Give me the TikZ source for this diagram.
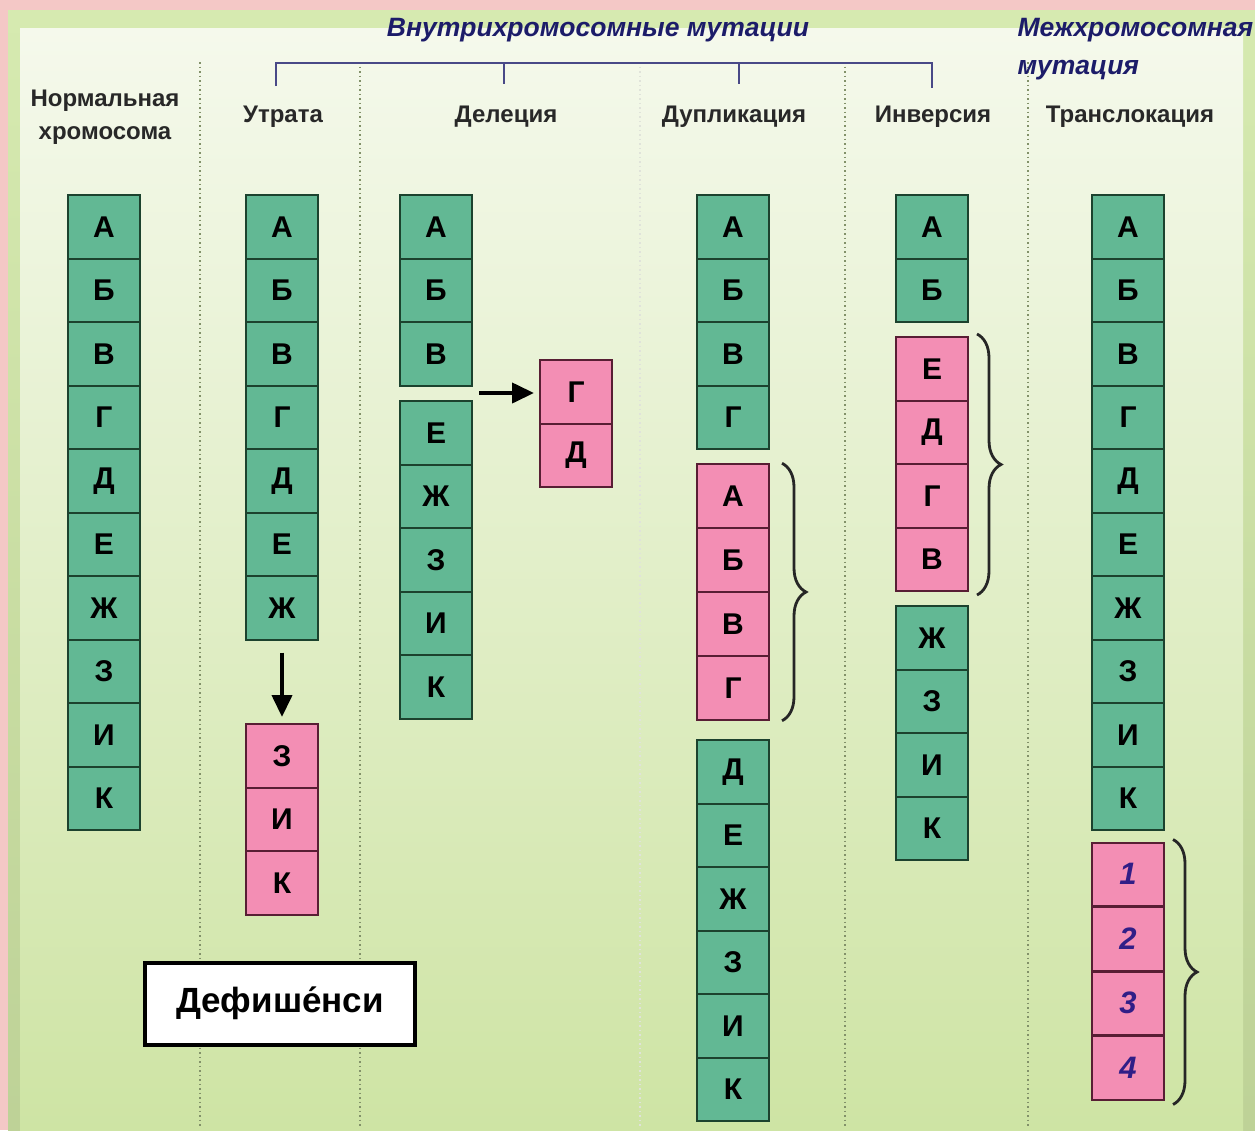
\documentclass[tikz,border=0pt]{standalone}
\usepackage{fontspec}
\setmainfont{Liberation Sans}
\usetikzlibrary{arrows.meta,decorations.pathreplacing}
\definecolor{frame}{RGB}{244,200,198}
\definecolor{bandgreen}{RGB}{214,234,176}
\definecolor{bgtop}{RGB}{245,249,236}
\definecolor{bgbot}{RGB}{206,228,164}
\definecolor{gfill}{RGB}{98,184,148}
\definecolor{gborder}{RGB}{28,66,46}
\definecolor{pfill}{RGB}{243,142,180}
\definecolor{pborder}{RGB}{88,30,52}
\definecolor{titleblue}{RGB}{28,28,105}
\definecolor{numblue}{RGB}{48,30,135}
\definecolor{labelgray}{RGB}{40,40,40}
\definecolor{dotcol}{RGB}{130,145,105}
\begin{document}
\begin{tikzpicture}[x=1pt,y=-1pt,
  cell/.style={line width=2pt, minimum width=72pt, minimum height=63.5pt, inner sep=0pt,
    font=\fontsize{30}{32}\selectfont\bfseries},
  gcell/.style={cell, draw=gborder, fill=gfill},
  pcell/.style={cell, draw=pborder, fill=pfill},
  ncell/.style={pcell, text=numblue, font=\fontsize{31}{33}\selectfont\bfseries\itshape},
  collabel/.style={text=labelgray, font=\fontsize{24}{33}\selectfont\bfseries, align=center},
  title/.style={text=titleblue, font=\fontsize{26.5}{38}\selectfont\bfseries\itshape},
  sep/.style={dotcol, line width=1.4pt, dash pattern=on 1.5pt off 3pt},
  bracket/.style={draw=titleblue!80, line width=1.6pt},
  brace/.style={draw=black!85, line width=2.8pt, decorate, decoration={brace, amplitude=24pt}},
  arr/.style={line width=4pt, -{Triangle[length=22pt,width=20pt]}}
]
\useasboundingbox (0,0) rectangle (1255,1130);
% background
\fill[frame] (0,0) rectangle (1255,1130);
\shade[top color=bandgreen, bottom color=bgbot!92!black] (8,10) rectangle (1255,1130);
\shade[top color=bgtop, bottom color=bgbot] (20,28) rectangle (1243,1130);

% separators
\foreach \sx in {200,360,845,1028} \draw[sep] (\sx,62) -- (\sx,1126);
\draw[white!75!dotcol, line width=1.3pt, dash pattern=on 1.5pt off 3pt] (640,62) -- (640,1126);

% titles
\node[title] (t1) at (598,30) {Внутрихромосомные мутации};
\node[title, anchor=west, align=left] (t2) at (1014,49) {Межхромосомная\\мутация};
\coordinate (b1) at (276,63);
\coordinate (b2) at (504,63);
\coordinate (b3) at (739,63);
\coordinate (b4) at (932,63);
\draw[bracket] (276,86) -- (b1) -- (b4) -- (932,88);
\draw[bracket] (b2) -- (504,84);
\draw[bracket] (b3) -- (739,84);

% column labels
\node[collabel] (l0) at (105,117) {Нормальная\\хромосома};
\node[collabel] (l1) at (283,117) {Утрата};
\node[collabel] (l2) at (506,117) {Делеция};
\node[collabel] (l3) at (734,117) {Дупликация};
\node[collabel] (l4) at (933,117) {Инверсия};
\node[collabel] (l5) at (1130,117) {Транслокация};

% normal chromosome
\foreach \l [count=\i] in {А,Б,В,Г,Д,Е,Ж,З,И,К}
  \node[gcell] (n\i) at (104,{195+(\i-0.5)*63.5}) {\l};

% loss
\foreach \l [count=\i] in {А,Б,В,Г,Д,Е,Ж}
  \node[gcell] (u\i) at (282,{195+(\i-0.5)*63.5}) {\l};
\foreach \l [count=\i] in {З,И,К}
  \node[pcell] (up\i) at (282,{724+(\i-0.5)*63.5}) {\l};
\draw[arr] ([yshift=-12pt]u7.south) -- ([yshift=6pt]up1.north);

% deletion
\foreach \l [count=\i] in {А,Б,В}
  \node[gcell] (d\i) at (436,{195+(\i-0.5)*63.5}) {\l};
\foreach \l [count=\i] in {Е,Ж,З,И,К}
  \node[gcell] (e\i) at (436,{401+(\i-0.5)*63.5}) {\l};
\foreach \l [count=\i] in {Г,Д}
  \node[pcell] (dp\i) at (576,{360+(\i-0.5)*63.5}) {\l};
\coordinate (dstart) at (479,393);
\draw[arr] (dstart) -- ([xshift=-5pt]dp1.west |- dstart);

% duplication
\foreach \l [count=\i] in {А,Б,В,Г}
  \node[gcell] (a\i) at (733,{195+(\i-0.5)*63.5}) {\l};
\foreach \l [count=\i] in {А,Б,В,Г}
  \node[pcell] (ap\i) at (733,{464+(\i-0.5)*64}) {\l};
\foreach \l [count=\i] in {Д,Е,Ж,З,И,К}
  \node[gcell] (ag\i) at (733,{740+(\i-0.5)*63.5}) {\l};
\draw[brace] ([xshift=12pt]ap1.north east) -- ([xshift=12pt]ap4.south east);

% inversion
\foreach \l [count=\i] in {А,Б}
  \node[gcell] (v\i) at (932,{195+(\i-0.5)*63.5}) {\l};
\foreach \l [count=\i] in {Е,Д,Г,В}
  \node[pcell] (vp\i) at (932,{337+(\i-0.5)*63.5}) {\l};
\foreach \l [count=\i] in {Ж,З,И,К}
  \node[gcell] (vg\i) at (932,{606+(\i-0.5)*63.5}) {\l};
\draw[brace] ([xshift=8pt,yshift=2pt]vp1.north east) -- ([xshift=8pt,yshift=-3pt]vp4.south east);

% translocation
\foreach \l [count=\i] in {А,Б,В,Г,Д,Е,Ж,З,И,К}
  \node[gcell] (r\i) at (1128,{195+(\i-0.5)*63.5}) {\l};
\foreach \l [count=\i] in {1,2,3,4}
  \node[ncell] (rp\i) at (1128,{842+(\i-0.5)*64.5}) {\l};
\draw[brace] ([xshift=8pt,yshift=2pt]rp1.north east) -- ([xshift=8pt,yshift=-4pt]rp4.south east);

% deficiency box
\node[draw=black, line width=4pt, fill=white, minimum width=270pt, minimum height=82pt,
  font=\fontsize{35}{37}\selectfont\bfseries] (def) at (280,1003.5) {Дефише́нси};
\end{tikzpicture}
\end{document}
